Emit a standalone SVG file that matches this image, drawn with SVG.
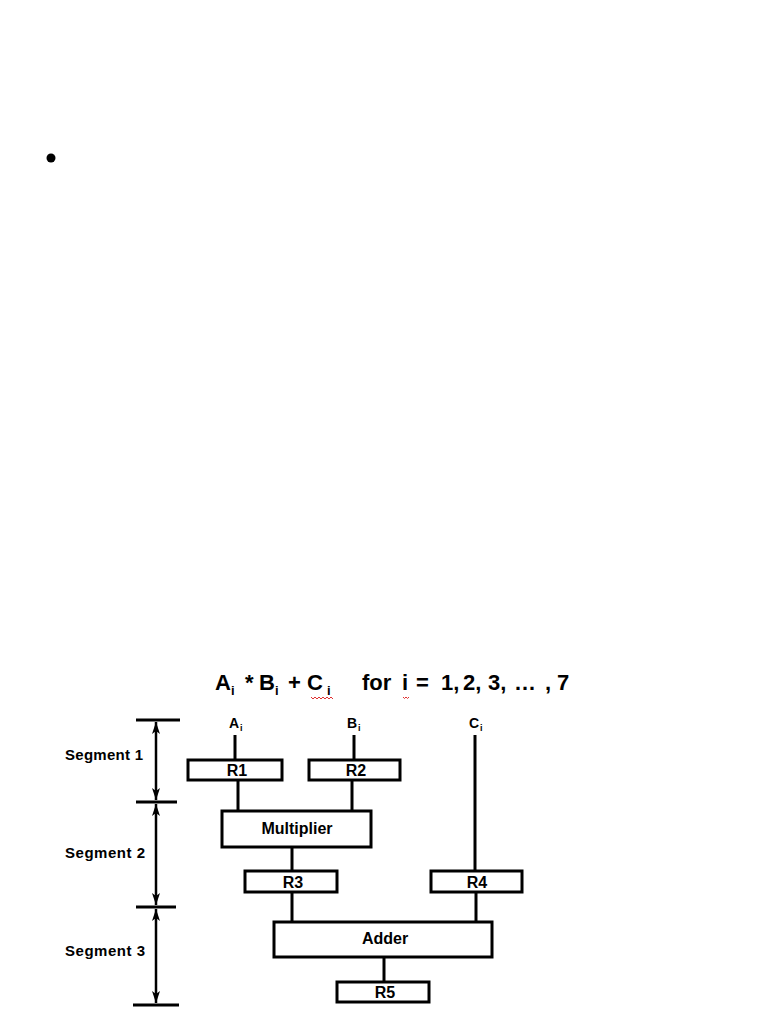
<svg xmlns="http://www.w3.org/2000/svg" width="768" height="1024" viewBox="0 0 768 1024">
<style>
text{font-family:"Liberation Sans",Arial,sans-serif;font-weight:bold;fill:#000}
.box{fill:#fff;stroke:#000;stroke-width:3}
.lbl{font-size:16px;text-anchor:middle}
.seg{font-size:15px}
.wire{stroke:#000;stroke-width:3;fill:none}
.tick{stroke:#000;stroke-width:3}
.dim{stroke:#000;stroke-width:2.5;fill:none}
.sq{stroke:#e03030;stroke-width:1;fill:none}
.t{font-size:22px}
.ts{font-size:13px}
</style>
<defs>
<marker id="ah" viewBox="0 0 12 8" refX="12" refY="4" markerWidth="12" markerHeight="8" orient="auto-start-reverse" markerUnits="userSpaceOnUse">
<path d="M0,0 L12,4 L0,8 L3,4 Z" fill="#000"/>
</marker>
</defs>
<rect width="768" height="1024" fill="#fff"/>
<circle cx="51" cy="158" r="4.5" fill="#000"/>
<g id="title">
<text class="t" x="215" y="690">A</text>
<text class="ts" x="231" y="695">i</text>
<text class="t" x="245" y="690">*</text>
<text class="t" x="259" y="690">B</text>
<text class="ts" x="275" y="695">i</text>
<text class="t" x="288" y="690">+</text>
<text class="t" x="307" y="690">C</text>
<text class="ts" x="327" y="695">i</text>
<text class="t" x="362" y="690" font-size="23">for</text>
<text class="t" x="402" y="690">i</text>
<text class="t" x="416" y="690">=</text>
<text class="t" x="441" y="690">1,</text>
<text class="t" x="463" y="690">2,</text>
<text class="t" x="488" y="690">3,</text>
<text class="t" x="514" y="690">…</text>
<text class="t" x="545" y="690">,</text>
<text class="t" x="557" y="690">7</text>
<path class="sq" d="M311,697 l2,2 l2,-2 l2,2 l2,-2 l2,2 l2,-2 l2,2 l2,-2 l2,2 l2,-2 l2,2"/>
<path class="sq" d="M403,697 l1.5,1.5 l1.5,-1.5 l1.5,1.5 l1.5,-1.5"/>
</g>
<g id="segments">
<line class="tick" x1="136" y1="720" x2="180" y2="720"/>
<line class="tick" x1="136" y1="802" x2="177" y2="802"/>
<line class="tick" x1="136" y1="907" x2="176" y2="907"/>
<line class="tick" x1="133" y1="1005" x2="179" y2="1005"/>
<line class="dim" x1="156" y1="722" x2="156" y2="800" marker-start="url(#ah)" marker-end="url(#ah)"/>
<line class="dim" x1="156" y1="804" x2="156" y2="905" marker-start="url(#ah)" marker-end="url(#ah)"/>
<line class="dim" x1="156" y1="909" x2="156" y2="1003" marker-start="url(#ah)" marker-end="url(#ah)"/>
<text class="seg" x="65" y="760" textLength="78">Segment 1</text>
<text class="seg" x="65" y="858" textLength="80">Segment 2</text>
<text class="seg" x="65" y="956" textLength="80">Segment 3</text>
</g>
<g id="inputs">
<text x="229" y="728" font-size="14">A</text><text x="240" y="731" font-size="9">i</text>
<text x="347" y="728" font-size="14">B</text><text x="358" y="731" font-size="9">i</text>
<text x="469" y="728" font-size="14">C</text><text x="480" y="731" font-size="9">i</text>
</g>
<g id="connectors">
<line class="wire" x1="235" y1="735" x2="235" y2="760"/>
<line class="wire" x1="354" y1="735" x2="354" y2="760"/>
<line class="wire" x1="475" y1="735" x2="475" y2="871" stroke-width="4"/>
<line class="wire" x1="238" y1="780" x2="238" y2="811"/>
<line class="wire" x1="352" y1="780" x2="352" y2="811"/>
<line class="wire" x1="292" y1="847" x2="292" y2="871"/>
<line class="wire" x1="292" y1="892" x2="292" y2="922"/>
<line class="wire" x1="476" y1="892" x2="476" y2="922" stroke-width="3.5"/>
<line class="wire" x1="384" y1="957" x2="384" y2="982"/>
</g>
<g id="R1"><rect class="box" x="188" y="760" width="94" height="20"/><text class="lbl" x="237" y="776">R1</text></g>
<g id="R2"><rect class="box" x="309" y="760" width="91" height="20"/><text class="lbl" x="356" y="776">R2</text></g>
<g id="Multiplier"><rect class="box" x="222" y="811" width="149" height="36"/><text class="lbl" x="297" y="834">Multiplier</text></g>
<g id="R3"><rect class="box" x="245" y="871" width="92" height="21"/><text class="lbl" x="293" y="888">R3</text></g>
<g id="R4"><rect class="box" x="431" y="871" width="91" height="21"/><text class="lbl" x="477" y="888">R4</text></g>
<g id="Adder"><rect class="box" x="274" y="922" width="218" height="35"/><text class="lbl" x="385" y="944">Adder</text></g>
<g id="R5"><rect class="box" x="337" y="982" width="92" height="20"/><text class="lbl" x="385" y="998">R5</text></g>
</svg>
